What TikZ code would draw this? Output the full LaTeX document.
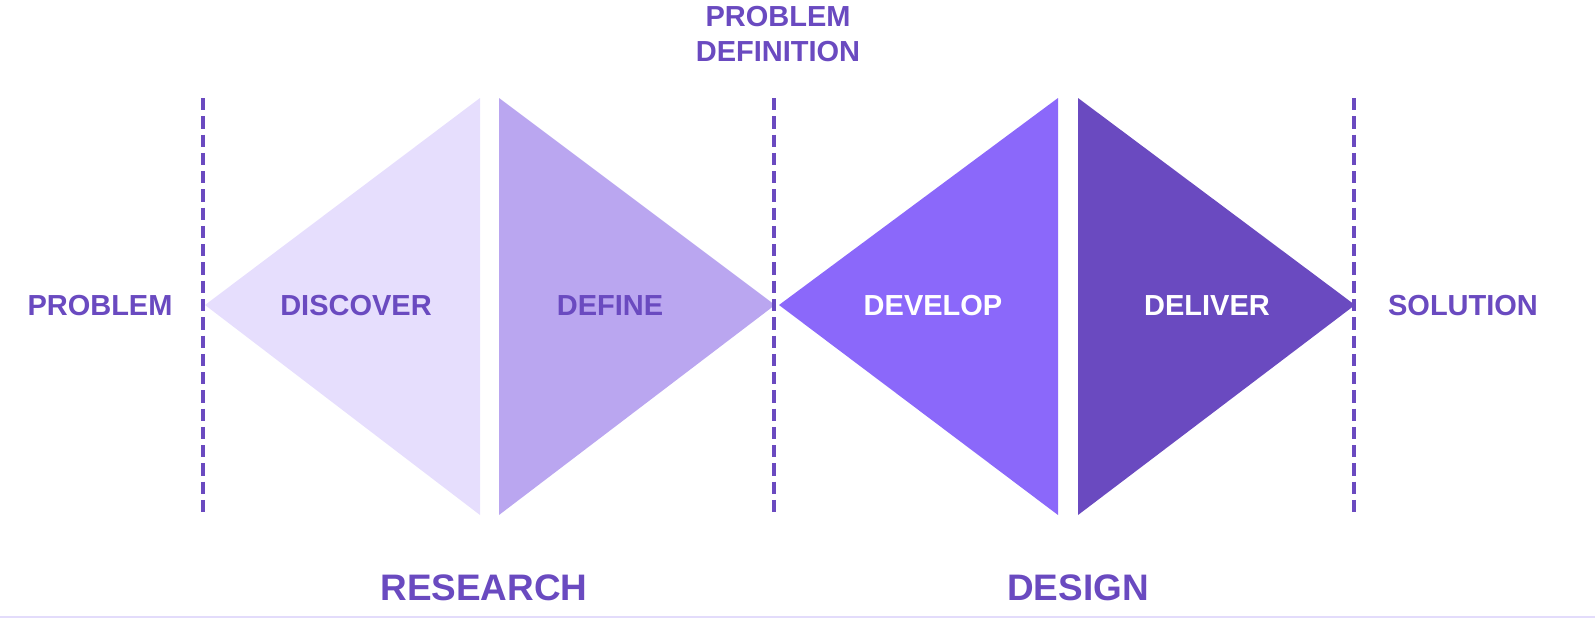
\documentclass[tikz,border=0pt]{standalone}
\usepackage{fontspec}
\setmainfont{Liberation Sans}
\definecolor{dvLight}{HTML}{E6DEFD}
\definecolor{dvMid}{HTML}{BAA6F0}
\definecolor{dvBright}{HTML}{8B68FA}
\definecolor{dvDark}{HTML}{6A4AC0}
\definecolor{dvLine}{HTML}{E3DCFB}
\tikzset{
    lbl/.style={text=dvDark, font=\bfseries\fontsize{16.5}{19.5}\selectfont, align=center},
    big/.style={text=dvDark, font=\bfseries\fontsize{21}{25}\selectfont},
    stage/.style={lbl},
    guide/.style={dvDark, line width=2.2pt, dash pattern=on 7pt off 3.4pt}
}
\begin{document}
\begin{tikzpicture}[x=0.02cm,y=-0.02cm]
    \useasboundingbox (0,0) rectangle (1595,619);
    
    % Diamonds
    \fill[dvLight] (205,305) -- (480,98) -- (480,515) -- cycle;
    \fill[dvMid] (499,98) -- (775,305) -- (499,515) -- cycle;
    \fill[dvBright] (779,305) -- (1058,98) -- (1058,515) -- cycle;
    \fill[dvDark] (1078,98) -- (1355,305) -- (1078,515) -- cycle;
    
    % Guides
    \foreach \x in {203,774,1354}
        \draw[guide] (\x,98) -- (\x,515);
    \draw[dvLine, line width=1pt] (0,617) -- (1595,617);
    
    % Text
    \node[stage] (discover) at (356,306) {DISCOVER};
    \node[stage] (define) at (610,306) {DEFINE};
    \node[stage, text=white] (develop) at (933,306) {DEVELOP};
    \node[stage, text=white] (deliver) at (1207,306) {DELIVER};
    \node[lbl] (problem) at (100,306) {PROBLEM};
    \node[lbl] (solution) at (1463,306) {SOLUTION};
    \node[lbl] (probdef) at (778,34) {PROBLEM\\DEFINITION};
    \node[big] (research) at (484,588) {RESEARCH};
    \node[big] (design) at (1078,588) {DESIGN};
    
\end{tikzpicture}
\end{document}
